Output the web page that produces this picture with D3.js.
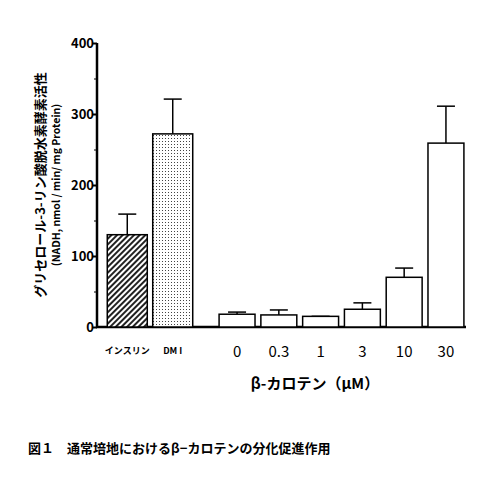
<!DOCTYPE html>
<html><head><meta charset="utf-8">
<script src="https://cdn.jsdelivr.net/npm/d3@7"></script>
<style>body{margin:0;background:#fff}text{font-family:"Noto Sans CJK JP","DejaVu Sans",sans-serif}</style>
</head><body><div id="chart"></div>
<script>
// control bars
var ctrlNames = ["インスリン", "DM I"];
var ctrlValues = [130, 272];
var ctrlErr = [159, 321];
// beta-carotene bars
var carNames = ["0", "0.3", "1", "3", "10", "30"];
var carValues = [18, 17, 15, 25, 70, 259];
var carErr = [21, 24, 15, 34, 83, 311];
var yTicks = [0, 100, 200, 300, 400];

var svg = d3.select("#chart").append("svg").attr("width", 494).attr("height", 482);
var defs = svg.append("defs");
var hatch = defs.append("pattern").attr("id", "hatch").attr("patternUnits", "userSpaceOnUse")
  .attr("width", 4).attr("height", 4).attr("patternTransform", "rotate(45)");
hatch.append("rect").attr("width", 4).attr("height", 4).attr("fill", "#fff");
hatch.append("rect").attr("width", 2).attr("height", 4).attr("fill", "#222");
var dots = defs.append("pattern").attr("id", "dots").attr("patternUnits", "userSpaceOnUse")
  .attr("width", 3).attr("height", 3);
dots.append("rect").attr("width", 3).attr("height", 3).attr("fill", "#fff");
dots.append("rect").attr("width", 1).attr("height", 1).attr("fill", "#444");

var y = d3.scaleLinear().domain([0, 400]).range([327, 43]);
var xc = d3.scaleBand().domain(ctrlNames).range([105, 195]).paddingInner(0.12).paddingOuter(0.05);
var xb = d3.scaleBand().domain(carNames).range([217, 466]).paddingInner(0.14).paddingOuter(0.05);

// y axis
var yAxis = d3.axisLeft(y).tickValues(yTicks).tickSize(5).tickFormat(d3.format("d"));
var ga = svg.append("g").attr("transform", "translate(97,0)").call(yAxis);
ga.select(".domain").attr("stroke-width", 2.5).attr("d", "M0,43V327");
ga.selectAll(".tick line").attr("stroke-width", 2);
ga.selectAll(".tick text").attr("font-size", 13).attr("font-weight", "bold").attr("x", -3).attr("dy", "0.35em");
svg.append("g").attr("transform", "translate(97,0)")
  .call(d3.axisLeft(y).tickValues(d3.range(50, 400, 100)).tickSize(3).tickFormat(""))
  .select(".domain").remove();
// x baseline
svg.append("line").attr("x1", 96).attr("x2", 466).attr("y1", y(0)).attr("y2", y(0))
  .attr("stroke", "#000").attr("stroke-width", 2.5);

function drawBars(names, vals, errs, xs, fill) {
  var g = svg.append("g");
  names.forEach(function (n, i) {
    var cx = xs(n) + xs.bandwidth() / 2;
    g.append("line").attr("x1", cx).attr("x2", cx).attr("y1", y(vals[i])).attr("y2", y(errs[i]))
      .attr("stroke", "#000").attr("stroke-width", 1.5);
    g.append("line").attr("x1", cx - 9).attr("x2", cx + 9).attr("y1", y(errs[i])).attr("y2", y(errs[i]))
      .attr("stroke", "#000").attr("stroke-width", 1.5);
    g.append("rect").attr("x", xs(n)).attr("width", xs.bandwidth())
      .attr("y", y(vals[i])).attr("height", y(0) - y(vals[i]))
      .attr("fill", typeof fill === "function" ? fill(i) : fill).attr("stroke", "#000").attr("stroke-width", 1.5);
  });
}
drawBars(ctrlNames, ctrlValues, ctrlErr, xc, function (i) { return i === 0 ? "url(#hatch)" : "url(#dots)"; });
drawBars(carNames, carValues, carErr, xb, "#fff");

ctrlNames.forEach(function (n, i) {
  svg.append("text").attr("x", xc(n) + xc.bandwidth() / 2).attr("y", 354).attr("text-anchor", "middle")
    .attr("font-size", 9).attr("font-weight", "bold").text(n);
});
carNames.forEach(function (n) {
  svg.append("text").attr("x", xb(n) + xb.bandwidth() / 2).attr("y", 357).attr("text-anchor", "middle")
    .attr("font-size", 15).text(n);
});
svg.append("text").attr("x", 315).attr("y", 389).attr("text-anchor", "middle").attr("font-size", 15)
  .attr("font-weight", "bold").text("β-カロテン（μM）");

svg.append("text").attr("transform", "translate(45,185) rotate(-90)").attr("text-anchor", "middle")
  .attr("font-size", 13).attr("font-weight", "bold").text("グリセロール-3-リン酸脱水素酵素活性");
svg.append("text").attr("transform", "translate(60,185) rotate(-90)").attr("text-anchor", "middle")
  .attr("font-size", 10.5).attr("font-weight", "bold").text("(NADH, nmol / min/ mg Protein)");

svg.append("text").attr("x", 28).attr("y", 453).attr("font-size", 13).attr("font-weight", "bold")
  .text("図１　通常培地におけるβ−カロテンの分化促進作用");
</script></body></html>
